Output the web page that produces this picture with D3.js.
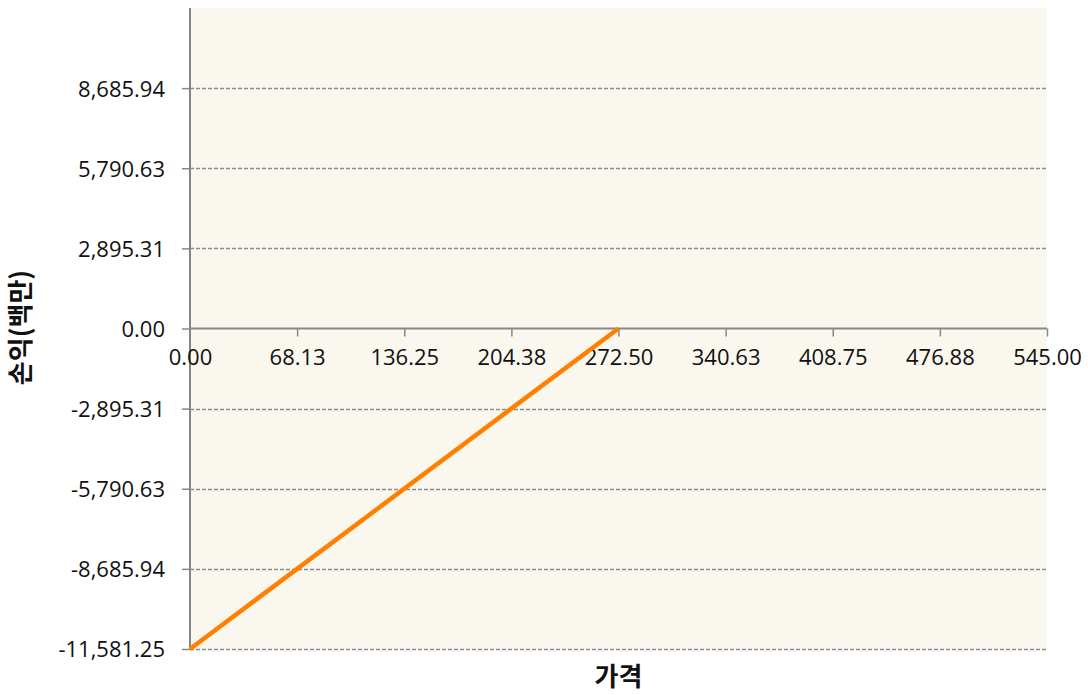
<!DOCTYPE html>
<html><head><meta charset="utf-8">
<script src="https://cdn.jsdelivr.net/npm/d3@7"></script>
<style>body{margin:0;background:#fff;} svg{display:block;}</style>
</head><body>
<svg id="c" width="1088" height="695"></svg>
<script>
const priceX = [0, 272.5];
const profitY = [-11581.25, 0];
const xTicks = [0, 68.125, 136.25, 204.375, 272.5, 340.625, 408.75, 476.875, 545];
const yTicks = [-11581.25, -8685.94, -5790.63, -2895.31, 0, 2895.31, 5790.63, 8685.94];
const xTitle = "가격";
const yTitle = "손익(백만)";

const svg = d3.select("#c");
const L = 190, R = 1047, T = 8, B = 649;
const x = d3.scaleLinear().domain([0, 545]).range([L, R]);
const y = d3.scaleLinear().domain([-11581.25, 11581.25]).range([B, T]);
const f2 = d3.format(",.2f");
const fmt = d => f2(d).replace("\u2212", "-");
const font = "'Open Sans', 'Liberation Sans', sans-serif";

svg.append("rect").attr("x", L).attr("y", T).attr("width", R - L).attr("height", B - T + 1)
  .attr("fill", "#FAF7EF");

// gridlines
svg.append("g").selectAll("line").data(yTicks.filter(d => d !== 0)).join("line")
  .attr("x1", L).attr("x2", R).attr("y1", d => Math.round(y(d)) + 0.5).attr("y2", d => Math.round(y(d)) + 0.5)
  .attr("stroke", "#8c8c8c").attr("stroke-width", 1.5).attr("stroke-dasharray", "4,2");

// y axis
const yAxis = d3.axisLeft(y).tickValues(yTicks).tickSize(8).tickPadding(17).tickFormat(fmt);
const gy = svg.append("g").attr("transform", `translate(${L},0)`).call(yAxis);
gy.select(".domain").remove();
gy.selectAll(".tick line").attr("stroke", "#888").attr("stroke-width", 1.5);
gy.selectAll(".tick text").attr("font-family", font).attr("font-size", 22).attr("fill", "#111").attr("dy", "0.36em");
svg.append("line").attr("x1", L).attr("x2", L).attr("y1", T).attr("y2", B + 1)
  .attr("stroke", "#858585").attr("stroke-width", 2);

// x axis at zero
const xAxis = d3.axisBottom(x).tickValues(xTicks).tickSize(8).tickPadding(13).tickFormat(fmt);
const gx = svg.append("g").attr("transform", `translate(0,${y(0)})`).call(xAxis);
gx.select(".domain").attr("stroke", "#888").attr("stroke-width", 2).attr("d", `M${L},0H${R}`);
gx.selectAll(".tick line").attr("stroke", "#888").attr("stroke-width", 1.5)
  .attr("display", d => d === 0 ? "none" : null);
gx.selectAll(".tick text").attr("font-family", font).attr("font-size", 22).attr("fill", "#111");

// line
const pts = priceX.map((v, i) => [v, profitY[i]]);
svg.append("path").datum(pts)
  .attr("d", d3.line().x(d => x(d[0])).y(d => y(d[1])))
  .attr("fill", "none").attr("stroke", "#FF8000").attr("stroke-width", 4.5);

// titles
svg.append("text").attr("x", (L + R) / 2).attr("y", 686).attr("text-anchor", "middle")
  .attr("font-family", "'Noto Sans CJK KR', sans-serif").attr("font-weight", "bold").attr("font-size", 26)
  .attr("fill", "#111").text(xTitle);
svg.append("text").attr("transform", `translate(30,${y(0) - 1}) rotate(-90)`).attr("text-anchor", "middle")
  .attr("font-family", "'Noto Sans CJK KR', sans-serif").attr("font-weight", "bold").attr("font-size", 26)
  .attr("fill", "#111").text(yTitle);
</script>
</body></html>
